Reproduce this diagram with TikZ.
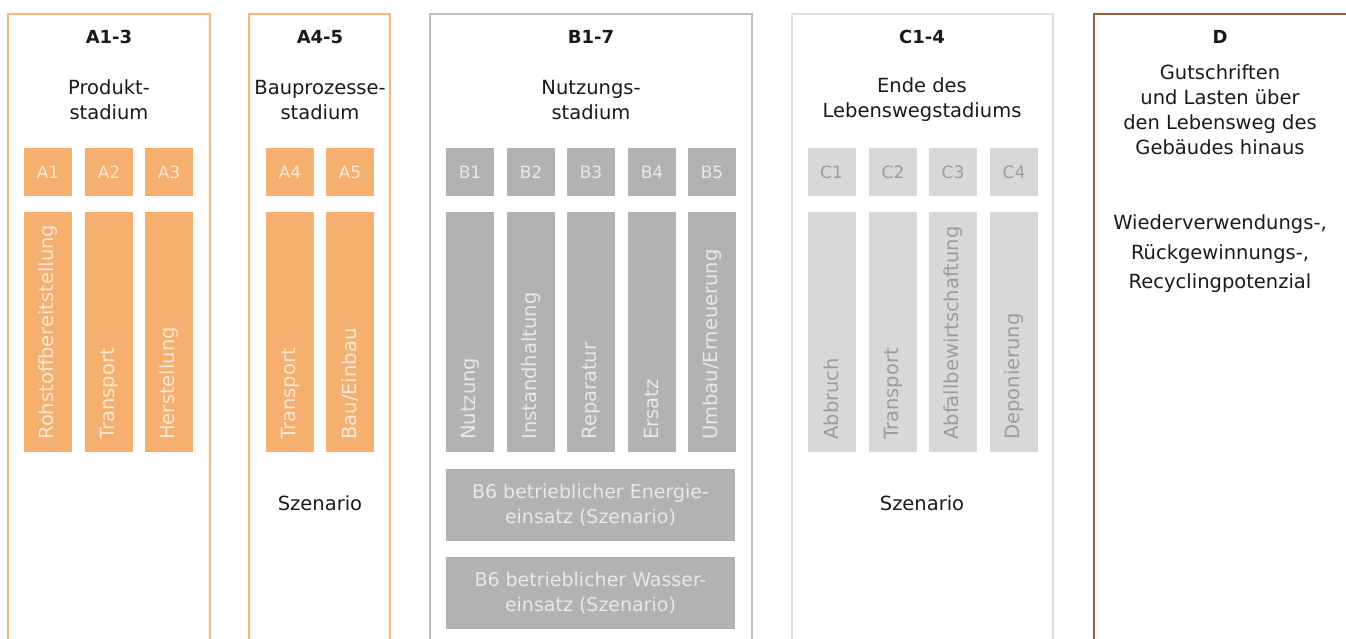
\documentclass[tikz,border=0pt]{standalone}
\usepackage{fontspec}
\setmainfont{DejaVu Sans}
\definecolor{orfill}{HTML}{F5AF6F}
\definecolor{orline}{HTML}{F7B57E}
\definecolor{ortext}{HTML}{FCE8D4}
\definecolor{gyfill}{HTML}{B2B2B4}
\definecolor{gyline}{HTML}{BDBDBD}
\definecolor{gytext}{HTML}{E8E8E9}
\definecolor{ltfill}{HTML}{D8D8DA}
\definecolor{ltline}{HTML}{E0E0E0}
\definecolor{lttext}{HTML}{9C9C9E}
\definecolor{brline}{HTML}{A2613D}
\definecolor{ink}{HTML}{1A1A1A}
\tikzset{
	head/.style={text=ink, font=\bfseries\fontsize{18}{22}\selectfont},
	stage/.style={text=ink, align=center, font=\fontsize{19.5}{25}\selectfont},
	modbox/.style={minimum width=48pt, minimum height=48pt, inner sep=0pt, font=\fontsize{17}{20}\selectfont},
	bar/.style={minimum width=48pt, minimum height=240pt, inner sep=0pt},
	barlabel/.style={rotate=90, anchor=west, font=\fontsize{19.5}{22}\selectfont},
	wide/.style={minimum width=289pt, minimum height=72pt, inner sep=0pt, align=center, fill=gyfill, text=gytext, font=\fontsize{19}{25}\selectfont},
}
\begin{document}
\begin{tikzpicture}[x=1pt, y=-1pt]
	\useasboundingbox (0,0) rectangle (1346,639);
	% Frames
	\draw [orline, line width=1.3pt] (8,639) |- (210,14) -- (210,639);
	\draw [orline, line width=1.3pt] (249,639) |- (390,14) -- (390,639);
	\draw [gyline, line width=1.3pt] (430,639) |- (752,14) -- (752,639);
	\draw [ltline, line width=1.3pt] (792,639) |- (1053,14) -- (1053,639);
	\draw [brline, line width=1.3pt] (1094,639) |- (1360,14) -- (1360,639);
	% Headings
	\node [head] (hA13) at (109,37) {A1-3};
	\node [head] (hA45) at (320,37) {A4-5};
	\node [head] (hB17) at (591,37) {B1-7};
	\node [head] (hC14) at (922,37) {C1-4};
	\node [head] (hD) at (1220,37) {D};
	\node [stage] (sA13) at (109,100) {Produkt-\\stadium};
	\node [stage] (sA45) at (320,100) {Bauprozesse-\\stadium};
	\node [stage] (sB17) at (591,100) {Nutzungs-\\stadium};
	\node [stage] (sC14) at (922,100) {Ende des\\Lebenswegstadiums};
	\node [stage] (sD) at (1220,110) {Gutschriften\\und Lasten über\\den Lebensweg des\\Gebäudes hinaus};
	\node [stage, font=\fontsize{19.5}{29.5}\selectfont] (potD) at (1220,254) {Wiederverwendungs-,\\Rückgewinnungs-,\\Recyclingpotenzial};
	% Orange
	\foreach \x/\m/\t in {48/A1/Rohstoffbereitstellung, 109/A2/Transport, 169/A3/Herstellung, 290/A4/Transport, 350/A5/Bau\slash Einbau} {
		\node [modbox, fill=orfill, text=ortext] (\m) at (\x,172) {\m};
		\node [bar, fill=orfill] (bar\m) at (\x,332) {};
		\node [barlabel, text=ortext] at ([yshift=9pt]bar\m.south) {\t};
	}
	% Grey
	\foreach \x/\m/\t in {470/B1/Nutzung, 531/B2/Instandhaltung, 591/B3/Reparatur, 652/B4/Ersatz, 712/B5/Umbau\slash Erneuerung} {
		\node [modbox, fill=gyfill, text=gytext] (\m) at (\x,172) {\m};
		\node [bar, fill=gyfill] (bar\m) at (\x,332) {};
		\node [barlabel, text=gytext] at ([yshift=9pt]bar\m.south) {\t};
	}
	% Light grey
	\foreach \x/\m/\t in {831.5/C1/Abbruch, 893/C2/Transport, 953/C3/Abfallbewirtschaftung, 1014/C4/Deponierung} {
		\node [modbox, fill=ltfill, text=lttext] (\m) at (\x,172) {\m};
		\node [bar, fill=ltfill] (bar\m) at (\x,332) {};
		\node [barlabel, text=lttext] at ([yshift=9pt]bar\m.south) {\t};
	}
	% B6
	\node [wide] (B6e) at (590.5,505) {B6 betrieblicher Energie-\\einsatz (Szenario)};
	\node [wide] (B6w) at (590.5,593) {B6 betrieblicher Wasser-\\einsatz (Szenario)};
	% Szenario
	\node [stage] (szA45) at (320,503) {Szenario};
	\node [stage] (szC14) at (922,503) {Szenario};
\end{tikzpicture}
\end{document}
